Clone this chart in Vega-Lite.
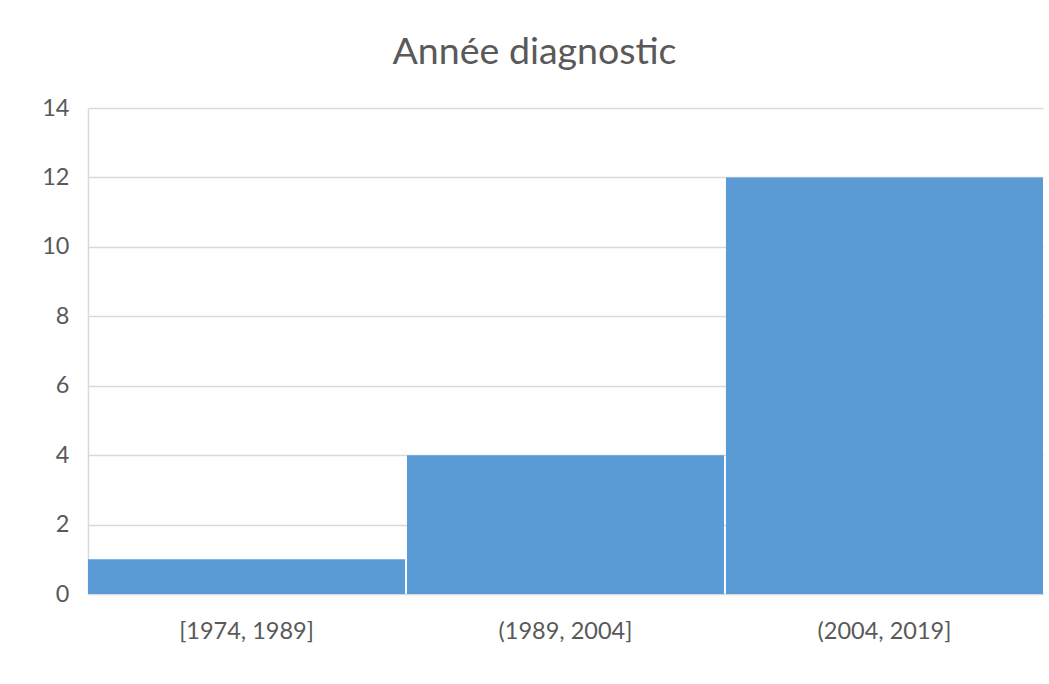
{
  "$schema": "https://vega.github.io/schema/vega-lite/v6.json",
  "width": 955,
  "height": 486,
  "autosize": {"type": "none"},
  "padding": {"left": 88, "top": 108, "right": 6, "bottom": 90},
  "background": "white",
  "config": {
    "view": {"stroke": null},
    "font": "Lato"
  },
  "title": {
    "text": "Année diagnostic",
    "font": "Lato",
    "fontSize": 37.5,
    "fontWeight": "normal",
    "color": "#595959",
    "anchor": "middle",
    "dx": -31,
    "offset": 25
  },
  "data": {
    "values": [
      {"periode": "[1974, 1989]", "n": 1},
      {"periode": "(1989, 2004]", "n": 4},
      {"periode": "(2004, 2019]", "n": 12}
    ]
  },
  "mark": {"type": "bar", "color": "#5B9BD5"},
  "encoding": {
    "x": {
      "field": "periode",
      "type": "nominal",
      "sort": null,
      "scale": {"paddingInner": 0.006, "paddingOuter": 0},
      "axis": {
        "title": null,
        "labelAngle": 0,
        "labelFont": "Lato",
        "labelFontSize": 23.5,
        "labelColor": "#595959",
        "labelPadding": 25,
        "ticks": false,
        "domainColor": "#d9d9d9",
        "domainWidth": 1
      }
    },
    "y": {
      "field": "n",
      "type": "quantitative",
      "scale": {"domain": [0, 14], "nice": false},
      "axis": {
        "title": null,
        "values": [0, 2, 4, 6, 8, 10, 12, 14],
        "labelFont": "Lato",
        "labelFontSize": 23.5,
        "labelColor": "#595959",
        "labelPadding": 19,
        "ticks": false,
        "gridColor": "#d9d9d9",
        "gridWidth": 1.5,
        "domainColor": "#d9d9d9",
        "domainWidth": 1.5
      }
    }
  }
}
